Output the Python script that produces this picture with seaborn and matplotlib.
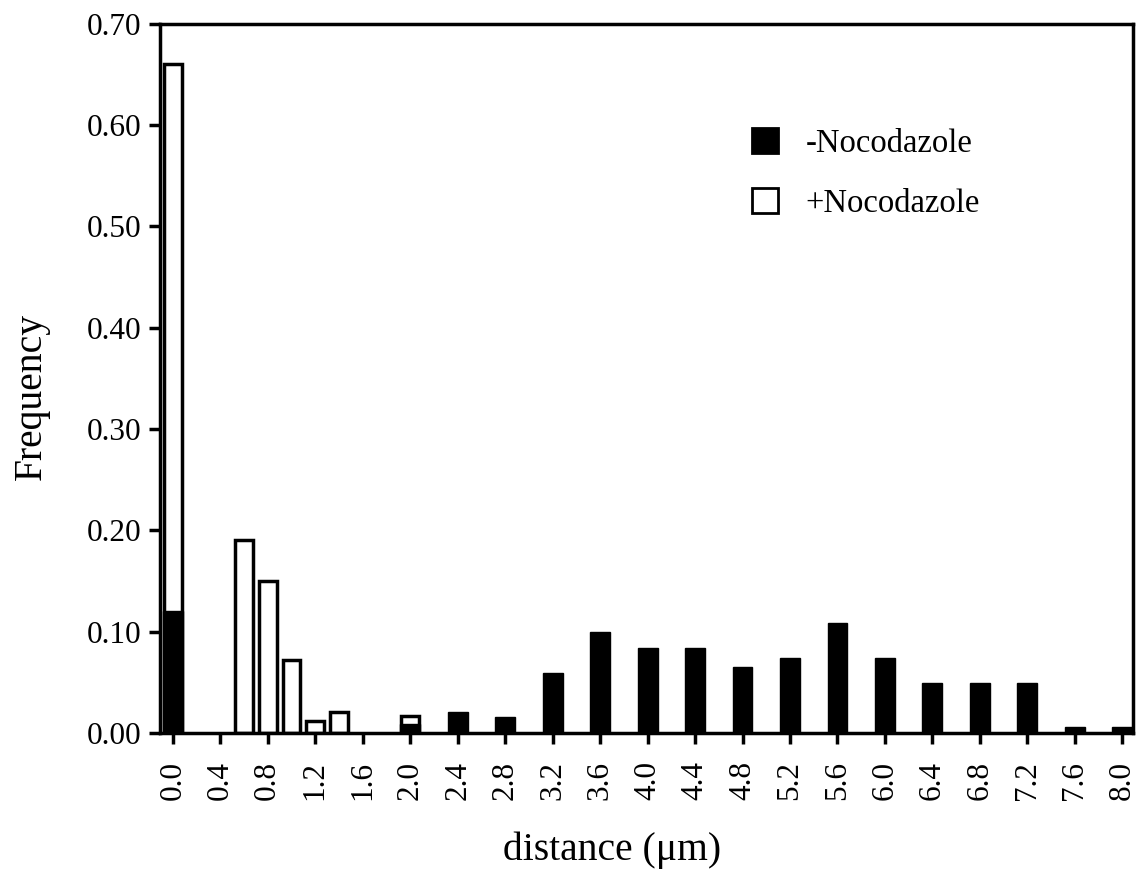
import matplotlib
matplotlib.use("Agg")
import matplotlib.pyplot as plt
import seaborn as sns
import pandas as pd
from matplotlib.patches import Patch

# Data
minus_x = [0.0, 2.0, 2.4, 2.8, 3.2, 3.6, 4.0, 4.4, 4.8, 5.2, 5.6, 6.0, 6.4, 6.8, 7.2, 7.6, 8.0]
minus_y = [0.12, 0.009, 0.021, 0.016, 0.059, 0.100, 0.084, 0.084, 0.065, 0.074, 0.108, 0.074, 0.049, 0.049, 0.049, 0.006, 0.006]
plus_x = [0.0, 0.6, 0.8, 1.0, 1.2, 1.4, 2.0]
plus_y = [0.66, 0.19, 0.15, 0.072, 0.012, 0.021, 0.017]
xticks = [0.0, 0.4, 0.8, 1.2, 1.6, 2.0, 2.4, 2.8, 3.2, 3.6, 4.0, 4.4, 4.8, 5.2, 5.6, 6.0, 6.4, 6.8, 7.2, 7.6, 8.0]
yticks = [0.0, 0.1, 0.2, 0.3, 0.4, 0.5, 0.6, 0.7]
labels = ["-Nocodazole", "+Nocodazole"]

sns.set_style("ticks")
plt.rcParams['font.family'] = ['Liberation Serif', 'DejaVu Serif']

fig = plt.figure(figsize=(11.41, 8.83), dpi=100)
ax = fig.add_axes([0.140, 0.170, 0.853, 0.803])

df_plus = pd.DataFrame({"x": plus_x, "y": plus_y})
df_minus = pd.DataFrame({"x": minus_x, "y": minus_y})

sns.barplot(data=df_plus, x="x", y="y", native_scale=True, width=0.75,
            color="white", edgecolor="black", linewidth=2.5, ax=ax, errorbar=None)
sns.barplot(data=df_minus, x="x", y="y", native_scale=True, width=0.42,
            color="black", edgecolor="black", linewidth=1, ax=ax, errorbar=None)

ax.set_xlim(-0.11, 8.09)
ax.set_ylim(0, 0.70)
ax.set_xticks(xticks)
ax.set_xticklabels([f"{t:.1f}" for t in xticks], rotation=90)
ax.set_yticks(yticks)
ax.set_yticklabels([f"{t:.2f}" for t in yticks])
ax.tick_params(axis="both", labelsize=22.5, width=2.5, length=8, direction="out",
               colors="black", pad=5)
ax.tick_params(axis="x", pad=12)
for s in ax.spines.values():
    s.set_linewidth(2.5)
    s.set_color("black")

ax.set_xlabel("distance (\u03bcm)", fontsize=28.5, color="black")
ax.set_ylabel("Frequency", fontsize=28.5, color="black")
ax.xaxis.set_label_coords(0.465, -0.139)
ax.yaxis.set_label_coords(-0.113, 0.475)

handles = [Patch(facecolor="black", edgecolor="black", linewidth=2),
           Patch(facecolor="white", edgecolor="black", linewidth=2)]
ax.legend(handles, labels, loc="upper left", bbox_to_anchor=(0.609, 0.853), frameon=False,
          fontsize=23.5, handlelength=0.78, handleheight=0.78, labelspacing=0.9,
          handletextpad=0.85, borderpad=0, borderaxespad=0, labelcolor="black")

fig.savefig("out.png", dpi=100, facecolor="white")
